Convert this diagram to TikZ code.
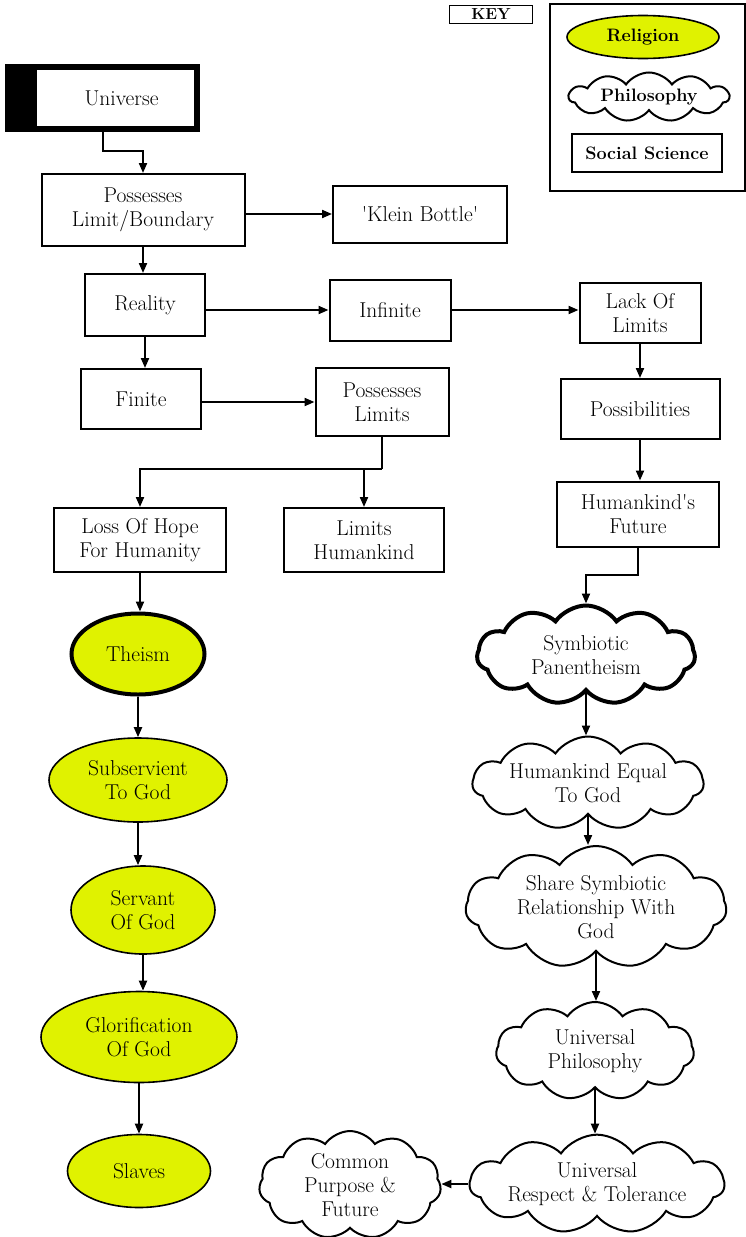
\documentclass[tikz,border=0pt]{standalone}
\usepackage{tikz}
\usetikzlibrary{positioning,calc,arrows.meta,shapes.geometric,shapes.symbols}
\definecolor{religion}{RGB}{224,242,0}

\begin{document}
\begin{tikzpicture}[x=1pt,y=-1pt,font=\fontsize{21.5}{24}\selectfont,
  box/.style={draw,line width=2pt,align=center,inner sep=2pt},
  relig/.style={ellipse,draw,line width=1.6pt,fill=religion,align=center,inner sep=1pt},
  philo/.style={cloud,cloud puffs=11,cloud puff arc=110,cloud ignores aspect,draw,line width=2pt,align=center,inner sep=1pt},
  arr/.style={line width=2pt,-{Triangle[length=10pt,width=8pt]}}]
  \useasboundingbox (0,0) rectangle (746,1237);
  % key
  \node[draw,line width=1.2pt,minimum width=83,minimum height=18,inner sep=0pt,font=\fontsize{16}{18}\selectfont\bfseries] (key) at (491,14.5) {KEY};
  \draw[line width=1.2pt] (550,4) rectangle (745,191);
  \node[relig,minimum width=152,minimum height=43,font=\fontsize{18}{20}\selectfont\bfseries] (kreligion) at (643,37) {Religion};
  \node[philo,minimum width=160,minimum height=49,font=\fontsize{18}{20}\selectfont\bfseries] (kphilo) at (649,97) {Philosophy};
  \node[box,minimum width=150,minimum height=38,font=\fontsize{18}{20}\selectfont\bfseries] (ksocial) at (647,153) {Social Science};
  % boxes
  \node[draw,line width=6pt,minimum width=189,minimum height=62,align=center] (universe) at (102.5,98) {\hspace*{38pt}Universe};
  \fill (universe.north west) rectangle ($(universe.south west)+(32,0)$);
  \node[box,minimum width=203,minimum height=72] (poss) at (143,210) {Possesses\\Limit/Boundary};
  \node[box,minimum width=174,minimum height=57] (klein) at (420,214) {\textquotesingle Klein Bottle\textquotesingle};
  \node[box,minimum width=120,minimum height=62] (reality) at (145,305) {Reality};
  \node[box,minimum width=121,minimum height=61] (infinite) at (390,310) {Infinite};
  \node[box,minimum width=121,minimum height=60] (lack) at (640,313) {Lack Of\\Limits};
  \node[box,minimum width=120,minimum height=60] (finite) at (141,399) {Finite};
  \node[box,minimum width=133,minimum height=68] (posslim) at (382,402) {Possesses\\Limits};
  \node[box,minimum width=159,minimum height=60] (possib) at (640,409) {Possibilities};
  \node[box,minimum width=162,minimum height=65] (hfut) at (638,514) {Humankind\textquotesingle s\\Future};
  \node[box,minimum width=172,minimum height=64] (loss) at (140,540) {Loss Of Hope\\For Humanity};
  \node[box,minimum width=160,minimum height=64] (limhum) at (364,540) {Limits\\Humankind};
  % religion column
  \node[relig,line width=4pt,minimum width=133,minimum height=81] (theism) at (138,654) {Theism};
  \node[relig,minimum width=178,minimum height=84] (subserv) at (138,780) {Subservient\\To God};
  \node[relig,minimum width=144,minimum height=88] (servant) at (143,910) {Servant\\Of God};
  \node[relig,minimum width=196,minimum height=91] (glorif) at (139,1037) {Glorification\\Of God};
  \node[relig,minimum width=143,minimum height=73] (slaves) at (139,1171) {Slaves};
  % philosophy column
  \node[philo,line width=4pt,minimum width=218,minimum height=99] (sym) at (586,655) {Symbiotic\\Panentheism};
  \node[philo,minimum width=231,minimum height=93] (heq) at (588,783) {Humankind Equal\\To God};
  \node[philo,minimum width=261,minimum height=105] (share) at (596,907) {Share Symbiotic\\Relationship With\\God};
  \node[philo,minimum width=198,minimum height=98] (univphil) at (595,1051) {Universal\\Philosophy};
  \node[philo,minimum width=254,minimum height=98] (univresp) at (597,1184) {Universal\\Respect \& Tolerance};
  \node[philo,minimum width=182,minimum height=100] (common) at (350,1185) {Common\\Purpose \&\\Future};
  % connectors
  \draw[arr] (universe.south) -- ++(0,19) -| (poss.north);
  \draw[arr] (poss.east |- klein.west) -- (klein.west);
  \draw[arr] (poss.south) -- (poss.south |- reality.north);
  \draw[arr] (reality.east |- infinite.west) -- (infinite.west);
  \draw[arr] (infinite.east) -- (infinite.east -| lack.west);
  \draw[arr] (reality.south) -- (reality.south |- finite.north);
  \draw[arr] (finite.east |- posslim.west) -- (posslim.west);
  \draw[arr] (lack.south) -- (lack.south |- possib.north);
  \draw[arr] (possib.south) -- (possib.south |- hfut.north);
  \coordinate (split) at (382,469);
  \draw[line width=2pt] (posslim.south) -- (split);
  \draw[arr] (split) -| (loss.north);
  \draw[arr] (limhum.north |- split) -- (limhum.north);
  \draw[arr] (hfut.south) -- ++(0,27) -| (sym.north);
  \draw[arr] (loss.south) -- (loss.south |- theism.north);
  \draw[arr] (theism.south) -- (subserv.north);
  \draw[arr] (subserv.south) -- (subserv.south |- servant.north);
  \draw[arr] (servant.south) -- (servant.south |- glorif.north);
  \draw[arr] (glorif.south) -- (glorif.south |- slaves.north);
  \draw[arr] (sym.south) -- (sym.south |- heq.north);
  \draw[arr] (heq.south) -- (heq.south |- share.north);
  \draw[arr] (share.south) -- (share.south |- univphil.north);
  \draw[arr] (univphil.south) -- (univphil.south |- univresp.north);
  \draw[arr] (univresp.west) -- (univresp.west -| common.east);
\end{tikzpicture}
\end{document}
